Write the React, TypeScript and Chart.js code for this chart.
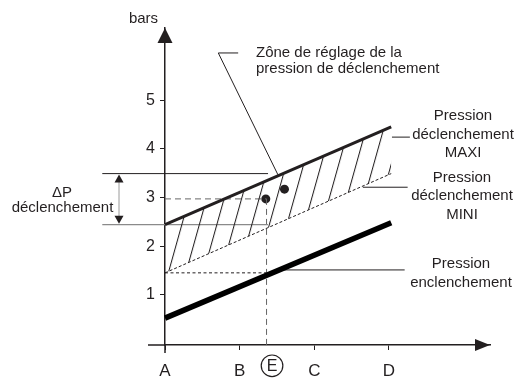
import React, { useEffect, useRef } from "react";
import { Chart, registerables } from "chart.js";

Chart.register(...registerables);

// ---- data (x: A=0 … D=3, y: bars) ----
const xTickValues = [0, 1, 2, 3];
const xTickLabels = ["A", "B", "C", "D"];
const yTickValues = [1, 2, 3, 4, 5];

const maxiLine = [{ x: 0, y: 2.44 }, { x: 3.03, y: 4.45 }];
const miniLine = [{ x: 0, y: 1.45 }, { x: 3.03, y: 3.49 }];
const enclLine = [{ x: 0, y: 0.52 }, { x: 3.03, y: 2.48 }];
const deltaTopLine = [{ x: -0.84, y: 3.49 }, { x: 1.38, y: 3.49 }];
const deltaBottomLine = [{ x: -0.84, y: 2.44 }, { x: 1.38, y: 2.44 }];
const pointEHoriz = [{ x: 0, y: 2.97 }, { x: 1.36, y: 2.97 }];
const pointEVert = [{ x: 1.36, y: 2.97 }, { x: 1.36, y: -0.033 }];
const enclAtE = [{ x: 0, y: 1.45 }, { x: 1.36, y: 1.45 }];
const settingPoints = [{ x: 1.35, y: 2.97 }, { x: 1.6, y: 3.17 }];
const zoneLeader = [{ x: 0.98, y: 5.97 }, { x: 0.714, y: 5.97 }, { x: 1.513, y: 3.465 }];
const maxiLeader = [{ x: 3.04, y: 4.24 }, { x: 3.28, y: 4.24 }];
const miniLeader = [{ x: 2.65, y: 3.21 }, { x: 3.25, y: 3.21 }];
const enclLeader = [{ x: 1.58, y: 1.51 }, { x: 3.21, y: 1.51 }];
const deltaPTop = 3.49;
const deltaPBottom = 2.44;
const deltaPX = -0.616;
const pointEX = 1.36;

const FONT = "'Liberation Sans', Arial, Helvetica, sans-serif";
const INK = "#231f20";

type Txt = { t: string; x: number; y: number; align: CanvasTextAlign };
const texts: Txt[] = [
  { t: "bars", x: 143.5, y: 22.7, align: "center" },
  { t: "Zône de réglage de la", x: 256, y: 56.7, align: "left" },
  { t: "pression de déclenchement", x: 256, y: 73.3, align: "left" },
  { t: "Pression", x: 463, y: 120, align: "center" },
  { t: "déclenchement", x: 463, y: 138.5, align: "center" },
  { t: "MAXI", x: 463, y: 157, align: "center" },
  { t: "Pression", x: 462, y: 181.5, align: "center" },
  { t: "déclenchement", x: 462, y: 200, align: "center" },
  { t: "MINI", x: 462, y: 218.5, align: "center" },
  { t: "Pression", x: 461, y: 268.3, align: "center" },
  { t: "enclenchement", x: 461, y: 286.7, align: "center" },
  { t: "ΔP", x: 62, y: 196.7, align: "center" },
  { t: "déclenchement", x: 62.5, y: 212.3, align: "center" },
];

function makeHatch(ctx: CanvasRenderingContext2D) {
  const tile = document.createElement("canvas");
  tile.width = 18;
  tile.height = 18;
  const t = tile.getContext("2d")!;
  t.fillStyle = INK;
  t.fillRect(0, 0, 1.1, 18);
  const p = ctx.createPattern(tile, "repeat")!;
  p.setTransform(new DOMMatrix([17.5 / 18, 0, -0.28, 1, 244.2, 0]));
  return p;
}

function line(data: any[], color: string, width: number, dash: number[] = [], extra: any = {}) {
  return {
    type: "line",
    data,
    borderColor: color,
    borderWidth: width,
    borderDash: dash,
    pointRadius: 0,
    fill: false,
    clip: false,
    tension: 0,
    ...extra,
  };
}

const decorPlugin = {
  id: "decor",
  afterDraw(chart: any) {
    const { ctx, chartArea } = chart;
    const xs = chart.scales.x;
    const ys = chart.scales.y;
    ctx.save();
    ctx.strokeStyle = INK;
    ctx.fillStyle = INK;
    // axis extensions
    ctx.lineWidth = 1.5;
    ctx.beginPath();
    ctx.moveTo(148, chartArea.bottom);
    ctx.lineTo(chartArea.left, chartArea.bottom);
    ctx.moveTo(chartArea.left, chartArea.bottom);
    ctx.lineTo(chartArea.left, chartArea.bottom + 8);
    ctx.stroke();
    // arrowheads
    ctx.beginPath();
    ctx.moveTo(chartArea.left, chartArea.top);
    ctx.lineTo(chartArea.left - 7.5, chartArea.top + 15);
    ctx.lineTo(chartArea.left + 7.5, chartArea.top + 15);
    ctx.closePath();
    ctx.fill();
    ctx.beginPath();
    ctx.moveTo(chartArea.right, chartArea.bottom);
    ctx.lineTo(chartArea.right - 15, chartArea.bottom - 6);
    ctx.lineTo(chartArea.right - 15, chartArea.bottom + 6);
    ctx.closePath();
    ctx.fill();
    // delta P arrow
    const ax = xs.getPixelForValue(deltaPX);
    const at = ys.getPixelForValue(deltaPTop);
    const ab = ys.getPixelForValue(deltaPBottom);
    ctx.strokeStyle = "#9a9a9a";
    ctx.lineWidth = 1;
    ctx.beginPath();
    ctx.moveTo(ax, at + 8);
    ctx.lineTo(ax, ab - 8);
    ctx.stroke();
    ctx.fillStyle = INK;
    ctx.beginPath();
    ctx.moveTo(ax, at + 1);
    ctx.lineTo(ax - 4.5, at + 9);
    ctx.lineTo(ax + 4.5, at + 9);
    ctx.closePath();
    ctx.fill();
    ctx.beginPath();
    ctx.moveTo(ax, ab - 1);
    ctx.lineTo(ax - 4.5, ab - 9);
    ctx.lineTo(ax + 4.5, ab - 9);
    ctx.closePath();
    ctx.fill();
    // E circle
    const ex = xs.getPixelForValue(pointEX) + 5.5;
    ctx.strokeStyle = INK;
    ctx.lineWidth = 1.2;
    ctx.beginPath();
    ctx.arc(ex, 365.8, 10.8, 0, Math.PI * 2);
    ctx.stroke();
    ctx.font = `16px ${FONT}`;
    ctx.textAlign = "center";
    ctx.textBaseline = "middle";
    ctx.fillText("E", ex, 366.5);
    // texts
    ctx.font = `15px ${FONT}`;
    ctx.textBaseline = "alphabetic";
    for (const t of texts) {
      ctx.textAlign = t.align;
      ctx.fillText(t.t, t.x, t.y);
    }
    ctx.restore();
  },
};

export default function App() {
  const ref = useRef<HTMLCanvasElement>(null);
  useEffect(() => {
    const canvas = ref.current!;
    const ctx = canvas.getContext("2d")!;
    const hatch = makeHatch(ctx);
    const chart = new Chart(canvas, {
      type: "line",
      data: {
        datasets: [
          line(maxiLine, INK, 3),
          line(miniLine, INK, 1, [3, 2], { fill: { target: 0 }, backgroundColor: hatch }),
          line(enclLine, "#000", 5.5),
          line(deltaTopLine, INK, 1),
          line(deltaBottomLine, "#8a8a8a", 1.3),
          line(pointEHoriz, "#666", 1, [6, 4]),
          line(pointEVert, "#666", 1, [6, 4]),
          line(enclAtE, INK, 1, [3, 2.5]),
          line(zoneLeader, INK, 1),
          line(maxiLeader, INK, 1),
          line(miniLeader, INK, 1),
          line(enclLeader, INK, 1),
          {
            type: "line",
            data: settingPoints,
            showLine: false,
            pointRadius: 4.5,
            pointBackgroundColor: INK,
            pointBorderWidth: 0,
            clip: false,
          },
        ] as any,
      },
      options: {
        animation: false,
        responsive: false,
        devicePixelRatio: 1,
        events: [],
        layout: { padding: { left: 0, right: 29, top: 28, bottom: 0 } },
        plugins: { legend: { display: false }, tooltip: { enabled: false } },
        scales: {
          x: {
            type: "linear",
            min: 0,
            max: 4.353,
            afterBuildTicks: (s: any) => {
              s.ticks = xTickValues.map((v) => ({ value: v }));
            },
            afterFit: (s: any) => {
              s.height = 33;
            },
            grid: { display: true, drawOnChartArea: false, drawTicks: true, tickLength: 5, color: INK, lineWidth: 1 },
            border: { display: true, color: INK, width: 1.5 },
            ticks: {
              autoSkip: false,
              maxRotation: 0,
              padding: 11,
              color: INK,
              font: { family: FONT, size: 17 },
              callback: (_v: any, i: number) => xTickLabels[i],
            },
          },
          y: {
            type: "linear",
            min: -0.033,
            max: 6.483,
            afterBuildTicks: (s: any) => {
              s.ticks = yTickValues.map((v) => ({ value: v }));
            },
            afterFit: (s: any) => {
              s.width = 165;
            },
            grid: { display: true, drawOnChartArea: false, drawTicks: true, tickLength: 5, color: INK, lineWidth: 1 },
            border: { display: true, color: INK, width: 1.5 },
            ticks: {
              padding: 5,
              color: INK,
              font: { family: FONT, size: 16 },
              callback: (v: any) => String(v),
            },
          },
        },
      } as any,
      plugins: [decorPlugin],
    });
    return () => chart.destroy();
  }, []);
  return (
    <div style={{ position: "absolute", left: 0, top: 0, width: 519, height: 378 }}>
      <canvas ref={ref} width={519} height={378} style={{ width: 519, height: 378, display: "block" }} />
    </div>
  );
}
